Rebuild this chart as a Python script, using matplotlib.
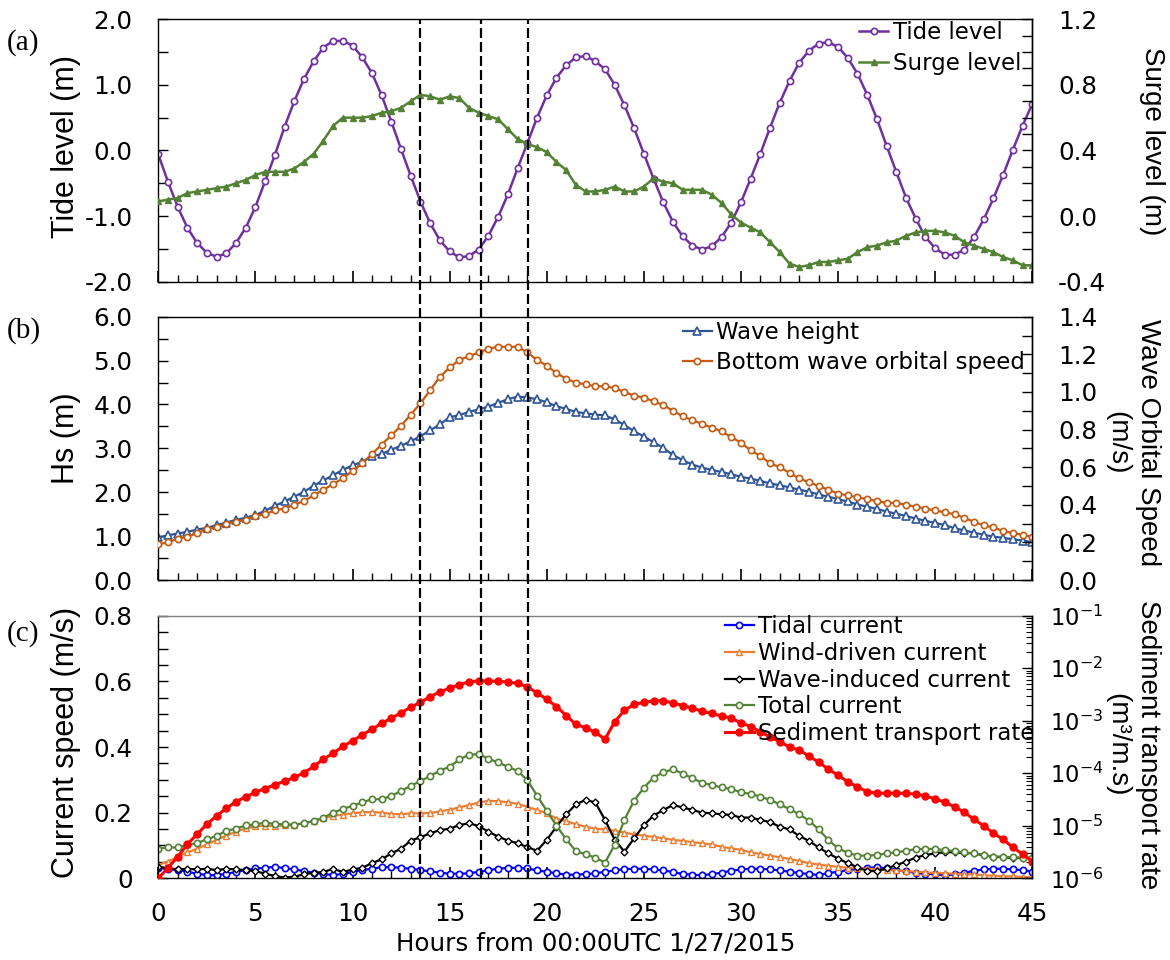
import numpy as np
import matplotlib
matplotlib.use("Agg")
import matplotlib.pyplot as plt
from matplotlib.ticker import (MultipleLocator, LogLocator, NullFormatter,
                               FormatStrFormatter, FuncFormatter,
                               LogFormatterSciNotation)

# ---------------------------------------------------------------- data
hours = np.arange(0, 45.5, 0.5)

tide_level = [
    -0.06, -0.48, -0.86, -1.18, -1.41, -1.56, -1.62, -1.57, -1.41, -1.18,
    -0.86, -0.47, -0.07, 0.36, 0.75, 1.09, 1.36, 1.57, 1.67, 1.67,
    1.60, 1.42, 1.18, 0.84, 0.44, 0.02, -0.39, -0.78, -1.11, -1.37,
    -1.54, -1.63, -1.61, -1.51, -1.30, -1.01, -0.67, -0.27, 0.11, 0.50,
    0.84, 1.11, 1.30, 1.42, 1.44, 1.36, 1.24, 1.00, 0.69, 0.34,
    -0.05, -0.43, -0.79, -1.09, -1.31, -1.45, -1.51, -1.46, -1.32, -1.10,
    -0.79, -0.43, -0.05, 0.35, 0.73, 1.06, 1.34, 1.52, 1.63, 1.65,
    1.58, 1.41, 1.17, 0.85, 0.48, 0.07, -0.33, -0.72, -1.04, -1.32,
    -1.49, -1.59, -1.59, -1.51, -1.32, -1.05, -0.73, -0.37, 0.01, 0.38,
    0.71]

surge_level = [
    0.09, 0.10, 0.11, 0.14, 0.15, 0.16, 0.17, 0.18, 0.20, 0.22,
    0.25, 0.27, 0.27, 0.27, 0.29, 0.33, 0.38, 0.46, 0.55, 0.60,
    0.60, 0.60, 0.61, 0.63, 0.64, 0.66, 0.70, 0.74, 0.73, 0.71,
    0.73, 0.72, 0.66, 0.63, 0.61, 0.59, 0.53, 0.47, 0.44, 0.42,
    0.39, 0.33, 0.28, 0.19, 0.15, 0.15, 0.16, 0.18, 0.15, 0.15,
    0.18, 0.23, 0.21, 0.20, 0.16, 0.16, 0.16, 0.13, 0.08, 0.01,
    -0.04, -0.07, -0.10, -0.16, -0.22, -0.29, -0.31, -0.30, -0.28, -0.28,
    -0.27, -0.26, -0.22, -0.19, -0.18, -0.16, -0.15, -0.12, -0.10, -0.09,
    -0.09, -0.10, -0.12, -0.16, -0.18, -0.20, -0.22, -0.25, -0.27, -0.30,
    -0.30]

wave_height = [
    0.97, 1.02, 1.06, 1.10, 1.15, 1.19, 1.25, 1.31, 1.37, 1.42,
    1.48, 1.58, 1.69, 1.79, 1.90, 2.01, 2.15, 2.27, 2.39, 2.51,
    2.61, 2.70, 2.82, 2.87, 2.97, 3.06, 3.16, 3.28, 3.41, 3.55,
    3.71, 3.76, 3.83, 3.89, 3.95, 4.04, 4.12, 4.18, 4.16, 4.12,
    4.05, 3.96, 3.90, 3.83, 3.80, 3.77, 3.75, 3.66, 3.53, 3.39,
    3.27, 3.14, 3.01, 2.85, 2.73, 2.63, 2.56, 2.51, 2.46, 2.41,
    2.35, 2.31, 2.26, 2.20, 2.16, 2.11, 2.06, 2.01, 1.95, 1.90,
    1.84, 1.79, 1.72, 1.67, 1.62, 1.56, 1.51, 1.46, 1.40, 1.35,
    1.30, 1.25, 1.18, 1.13, 1.08, 1.03, 0.99, 0.96, 0.93, 0.90,
    0.86]

orbital_speed = [
    0.19, 0.20, 0.22, 0.23, 0.25, 0.27, 0.28, 0.30, 0.31, 0.32,
    0.34, 0.35, 0.37, 0.38, 0.40, 0.42, 0.45, 0.48, 0.51, 0.54,
    0.58, 0.62, 0.67, 0.72, 0.77, 0.82, 0.88, 0.94, 1.01, 1.08,
    1.13, 1.17, 1.19, 1.21, 1.23, 1.24, 1.24, 1.24, 1.21, 1.17,
    1.14, 1.10, 1.07, 1.05, 1.04, 1.03, 1.03, 1.02, 1.00, 0.98,
    0.97, 0.95, 0.93, 0.90, 0.87, 0.85, 0.83, 0.81, 0.79, 0.76,
    0.73, 0.69, 0.66, 0.62, 0.60, 0.57, 0.54, 0.52, 0.50, 0.48,
    0.46, 0.45, 0.44, 0.43, 0.42, 0.41, 0.41, 0.40, 0.39, 0.38,
    0.37, 0.36, 0.35, 0.33, 0.31, 0.29, 0.28, 0.26, 0.25, 0.24,
    0.23]

tidal_current = [
    0.032, 0.028, 0.025, 0.020, 0.014, 0.010, 0.009, 0.014, 0.019, 0.025,
    0.030, 0.032, 0.035, 0.031, 0.027, 0.022, 0.017, 0.013, 0.010, 0.013,
    0.019, 0.025, 0.029, 0.034, 0.034, 0.032, 0.029, 0.025, 0.021, 0.017,
    0.014, 0.014, 0.015, 0.020, 0.025, 0.029, 0.032, 0.032, 0.030, 0.024,
    0.020, 0.015, 0.011, 0.011, 0.013, 0.015, 0.020, 0.024, 0.028, 0.029,
    0.029, 0.027, 0.024, 0.019, 0.013, 0.011, 0.009, 0.013, 0.017, 0.023,
    0.027, 0.029, 0.029, 0.027, 0.024, 0.020, 0.016, 0.013, 0.010, 0.016,
    0.020, 0.025, 0.029, 0.031, 0.034, 0.030, 0.025, 0.021, 0.017, 0.014,
    0.013, 0.009, 0.012, 0.017, 0.023, 0.027, 0.029, 0.029, 0.027, 0.025,
    0.020]

wind_current = [
    0.041, 0.051, 0.066, 0.079, 0.090, 0.103, 0.117, 0.130, 0.142, 0.152,
    0.158, 0.160, 0.159, 0.161, 0.162, 0.168, 0.175, 0.183, 0.190, 0.194,
    0.198, 0.201, 0.202, 0.200, 0.196, 0.195, 0.198, 0.198, 0.199, 0.204,
    0.209, 0.216, 0.223, 0.231, 0.236, 0.235, 0.232, 0.227, 0.218, 0.208,
    0.198, 0.182, 0.174, 0.165, 0.157, 0.151, 0.149, 0.145, 0.139, 0.134,
    0.130, 0.126, 0.122, 0.117, 0.114, 0.110, 0.107, 0.103, 0.096, 0.091,
    0.087, 0.079, 0.074, 0.069, 0.064, 0.059, 0.053, 0.046, 0.042, 0.038,
    0.035, 0.032, 0.031, 0.029, 0.027, 0.025, 0.024, 0.022, 0.020, 0.018,
    0.016, 0.015, 0.014, 0.012, 0.012, 0.009, 0.008, 0.006, 0.006, 0.004,
    0.003]

wave_current = [
    0.035, 0.031, 0.027, 0.029, 0.027, 0.029, 0.025, 0.029, 0.027, 0.025,
    0.022, 0.014, 0.007, 0.002, 0.005, 0.012, 0.017, 0.019, 0.029, 0.019,
    0.027, 0.032, 0.046, 0.058, 0.076, 0.090, 0.115, 0.125, 0.137, 0.147,
    0.151, 0.162, 0.168, 0.159, 0.142, 0.127, 0.115, 0.107, 0.095, 0.084,
    0.117, 0.157, 0.195, 0.225, 0.239, 0.231, 0.178, 0.117, 0.081, 0.122,
    0.162, 0.191, 0.208, 0.223, 0.216, 0.208, 0.200, 0.198, 0.195, 0.193,
    0.185, 0.185, 0.178, 0.171, 0.157, 0.149, 0.129, 0.114, 0.094, 0.076,
    0.060, 0.046, 0.034, 0.022, 0.022, 0.030, 0.040, 0.051, 0.063, 0.071,
    0.076, 0.080, 0.079, 0.077, 0.076, 0.070, 0.066, 0.064, 0.062, 0.062,
    0.061]

total_current = [
    0.090, 0.094, 0.094, 0.102, 0.107, 0.119, 0.129, 0.145, 0.151, 0.161,
    0.164, 0.170, 0.165, 0.165, 0.163, 0.168, 0.174, 0.185, 0.200, 0.211,
    0.221, 0.231, 0.241, 0.241, 0.251, 0.266, 0.282, 0.296, 0.312, 0.328,
    0.340, 0.362, 0.377, 0.378, 0.364, 0.353, 0.340, 0.327, 0.299, 0.252,
    0.206, 0.160, 0.119, 0.083, 0.073, 0.063, 0.048, 0.102, 0.178, 0.237,
    0.276, 0.307, 0.323, 0.332, 0.319, 0.305, 0.291, 0.284, 0.277, 0.272,
    0.262, 0.257, 0.249, 0.239, 0.225, 0.211, 0.195, 0.176, 0.149, 0.117,
    0.091, 0.078, 0.069, 0.069, 0.071, 0.076, 0.079, 0.084, 0.089, 0.090,
    0.089, 0.086, 0.083, 0.079, 0.076, 0.071, 0.066, 0.066, 0.064, 0.063,
    0.063]

# sediment transport rate, as log10 of m^3/m.s
sediment_log10 = [
    -6.00, -5.80, -5.59, -5.35, -5.16, -4.97, -4.81, -4.67, -4.54, -4.45,
    -4.36, -4.29, -4.22, -4.15, -4.08, -3.99, -3.87, -3.73, -3.62, -3.49,
    -3.38, -3.27, -3.16, -3.05, -2.95, -2.85, -2.74, -2.65, -2.54, -2.45,
    -2.38, -2.31, -2.26, -2.24, -2.24, -2.25, -2.26, -2.29, -2.35, -2.47,
    -2.59, -2.73, -2.90, -3.07, -3.13, -3.22, -3.35, -3.02, -2.80, -2.69,
    -2.65, -2.62, -2.62, -2.66, -2.71, -2.76, -2.82, -2.86, -2.91, -2.95,
    -3.04, -3.11, -3.21, -3.31, -3.40, -3.50, -3.56, -3.67, -3.79, -3.92,
    -4.04, -4.16, -4.26, -4.35, -4.38, -4.38, -4.38, -4.38, -4.40, -4.43,
    -4.49, -4.55, -4.64, -4.74, -4.88, -5.00, -5.14, -5.26, -5.41, -5.54,
    -5.68]
sediment_rate = 10.0 ** np.array(sediment_log10)

event_hours = [13.5, 16.6, 19.05]

# ---------------------------------------------------------------- style
plt.rcParams["font.family"] = ["DejaVu Sans"]
plt.rcParams["axes.unicode_minus"] = False
plt.rcParams["axes.linewidth"] = 1.0

TICK_FS = 17.7
LEG_FS = 16.5
YLAB_L = dict(family=["Liberation Sans", "DejaVu Sans"], size=22)
YLAB_R = dict(family=["Liberation Sans", "DejaVu Sans"], size=20)

fig = plt.figure(figsize=(11.7, 9.6), dpi=100)
L, W = 0.1353, 0.7470
ax_a = fig.add_axes([L, 0.7066, W, 0.2733])
ax_b = fig.add_axes([L, 0.3958, W, 0.2743])
ax_c = fig.add_axes([L, 0.0851, W, 0.2735])
ax_a2 = ax_a.twinx()
ax_b2 = ax_b.twinx()
ax_c2 = ax_c.twinx()


def style_x(ax, show_labels):
    ax.set_xlim(0, 45)
    ax.xaxis.set_major_locator(MultipleLocator(5))
    ax.xaxis.set_minor_locator(MultipleLocator(1))
    ax.tick_params(axis="x", which="major", direction="in", length=8,
                   width=1.2, pad=17, labelsize=TICK_FS,
                   labelbottom=show_labels, top=False)
    ax.tick_params(axis="x", which="minor", direction="in", length=5,
                   width=1.0, top=False)


def style_y(ax, lo, hi, major, minor, fmt, pad=18.5):
    ax.set_ylim(lo, hi)
    ax.yaxis.set_major_locator(MultipleLocator(major))
    ax.yaxis.set_minor_locator(MultipleLocator(minor))
    ax.yaxis.set_major_formatter(fmt)
    ax.tick_params(axis="y", which="both", direction="in", length=7,
                   width=1.0, pad=pad, labelsize=TICK_FS)


def twin_spines(ax2):
    for side in ("top", "bottom", "left"):
        ax2.spines[side].set_visible(False)


for ax, lab in ((ax_a, False), (ax_b, False), (ax_c, True)):
    style_x(ax, lab)
for ax2 in (ax_a2, ax_b2, ax_c2):
    twin_spines(ax2)

one_dec = FormatStrFormatter("%.1f")
LEG_KW = dict(loc="upper left", frameon=False, borderpad=0, borderaxespad=0,
              handlelength=1.27, handletextpad=0.2, fontsize=LEG_FS)

# ---------------------------------------------------------------- (a)
l_tide, = ax_a.plot(hours, tide_level, color="#7030A0", lw=1.8, marker="o",
                    ms=4.5, mfc="white", mec="#7030A0", mew=1.2,
                    label="Tide level")
l_surge, = ax_a2.plot(hours, surge_level, color="#548235", lw=1.8,
                      marker="^", ms=5, mfc="#548235", mec="#548235",
                      label="Surge level")
style_y(ax_a, -2.0, 2.0, 1.0, 0.5, one_dec)
style_y(ax_a2, -0.4, 1.2, 0.4, 0.1, one_dec)
ax_a2.legend(handles=[l_tide, l_surge], bbox_to_anchor=(0.802, 0.992),
             labelspacing=0.32, **LEG_KW)

# ---------------------------------------------------------------- (b)
l_hs, = ax_b.plot(hours, wave_height, color="#2F5597", lw=1.6, marker="^",
                  ms=5.5, mfc="white", mec="#2F5597", mew=1.2,
                  label="Wave height")
l_ub, = ax_b2.plot(hours, orbital_speed, color="#C55A11", lw=1.6,
                   marker="o", ms=4.5, mfc="white", mec="#C55A11", mew=1.2,
                   label="Bottom wave orbital speed")
style_y(ax_b, 0.0, 6.0, 1.0, 0.5, one_dec)
style_y(ax_b2, 0.0, 1.4, 0.2, 0.1, one_dec)
ax_b2.legend(handles=[l_hs, l_ub], bbox_to_anchor=(0.600, 0.982),
             labelspacing=0.28, **LEG_KW)

# ---------------------------------------------------------------- (c)
l_tc, = ax_c.plot(hours, tidal_current, color="#0000FF", lw=1.6, marker="o",
                  ms=4.5, mfc="white", mec="#0000FF", mew=1.2,
                  label="Tidal current")
l_wc, = ax_c.plot(hours, wind_current, color="#ED7D31", lw=1.6, marker="^",
                  ms=4.5, mfc="white", mec="#ED7D31", mew=1.0,
                  label="Wind-driven current")
l_wi, = ax_c.plot(hours, wave_current, color="black", lw=1.6, marker="D",
                  ms=3.5, mfc="white", mec="black", mew=1.0,
                  label="Wave-induced current")
l_tot, = ax_c.plot(hours, total_current, color="#548235", lw=1.6,
                   marker="o", ms=4.5, mfc="white", mec="#548235", mew=1.2,
                   label="Total current")
l_sed, = ax_c2.plot(hours, sediment_rate, color="#FF0000", lw=2.2,
                    marker="o", ms=5, mfc="#FF0000", mec="#FF0000",
                    label="Sediment transport rate")
style_y(ax_c, 0.0, 0.8, 0.2, 0.05,
        FuncFormatter(lambda v, _: "0" if abs(v) < 1e-9 else f"{v:.1f}"))
ax_c.spines["top"].set_color("#808080")

ax_c2.set_yscale("log")
ax_c2.set_ylim(1e-6, 1e-1)
ax_c2.yaxis.set_major_locator(LogLocator(base=10, numticks=10))
ax_c2.yaxis.set_minor_locator(LogLocator(base=10, subs=np.arange(2, 10),
                                         numticks=20))
ax_c2.yaxis.set_major_formatter(LogFormatterSciNotation())
ax_c2.yaxis.set_minor_formatter(NullFormatter())
ax_c2.tick_params(axis="y", which="major", direction="in", length=7,
                  width=1.0, pad=13, labelsize=16.3)
ax_c2.tick_params(axis="y", which="minor", direction="in", length=4,
                  width=0.8)
ax_c2.legend(handles=[l_tc, l_wc, l_wi, l_tot, l_sed],
             bbox_to_anchor=(0.648, 1.001), labelspacing=0.16, **LEG_KW)

ax_c.set_xlabel("Hours from 00:00UTC 1/27/2015", fontsize=TICK_FS,
                labelpad=4)

# ---------------------------------------------------------------- axis titles
ax_a.text(-0.1056, 0.517, "Tide level (m)", transform=ax_a.transAxes,
          rotation=90, ha="center", va="center", **YLAB_L)
ax_b.text(-0.1056, 0.54, "Hs (m)", transform=ax_b.transAxes,
          rotation=90, ha="center", va="center", **YLAB_L)
ax_c.text(-0.1056, 0.519, "Current speed (m/s)", transform=ax_c.transAxes,
          rotation=90, ha="center", va="center", **YLAB_L)

ax_a2.text(1.137, 0.535, "Surge level (m)", transform=ax_a2.transAxes,
           rotation=270, ha="center", va="center", **YLAB_R)
ax_b2.text(1.1145, 0.522, "Wave Orbital Speed\n(m/s)",
           transform=ax_b2.transAxes, rotation=270, ha="center",
           va="center", multialignment="center", linespacing=1.25, **YLAB_R)
ax_c2.text(1.1145, 0.51, "Sediment transport rate\n(m\u00b3/m.s)",
           transform=ax_c2.transAxes, rotation=270, ha="center",
           va="center", multialignment="center", linespacing=1.25, **YLAB_R)

# panel tags
for tag, yf in (("(a)", 0.956), ("(b)", 0.656), ("(c)", 0.340)):
    fig.text(0.006, yf, tag, ha="left", va="center",
             family=["Liberation Serif", "DejaVu Serif"], size=21)

# ---------------------------------------------------------------- event markers
ax_v = fig.add_axes([L, 0.0851, W, 0.9799 - 0.0851])
ax_v.set_xlim(0, 45)
ax_v.set_ylim(0, 1)
ax_v.axis("off")
for h in event_hours:
    ax_v.axvline(h, color="black", lw=1.6, linestyle=(0, (4.5, 1.8)))

fig.savefig("out.png", dpi=100)
